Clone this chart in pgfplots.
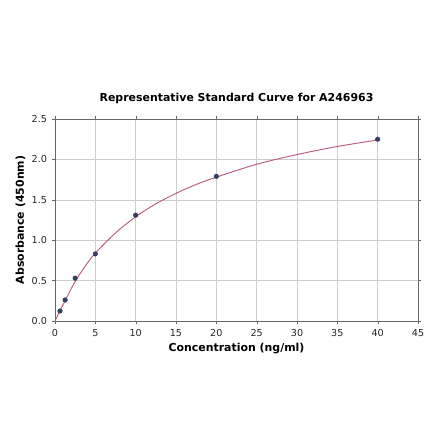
\documentclass[border=0pt]{standalone}
\usepackage{pgfplots}
\pgfplotsset{compat=1.18}
\usepackage{fontspec}
\setmainfont{DejaVu Sans}

\definecolor{curvecol}{RGB}{186,92,122}
\definecolor{ptcol}{RGB}{52,62,96}

\begin{document}
\begin{tikzpicture}[x=0.75pt,y=0.75pt]
  % page frame in reference pixels, axis lower-left at (0,0)
  \useasboundingbox (-55,-120) rectangle (385,321);
  \begin{axis}[
    at={(0,0)}, anchor=south west,
    scale only axis,
    width=272.25pt, height=151.5pt,
    xmin=0, xmax=45, ymin=0, ymax=2.5,
    xtick={0,5,...,45},
    ytick={0,0.5,...,2.5},
    yticklabel style={/pgf/number format/fixed, /pgf/number format/fixed zerofill, /pgf/number format/precision=1},
    /pgf/number format/assume math mode=true,
    tick label style={font=\fontsize{7.2}{8}\selectfont, text=black!85},
    grid=major,
    major grid style={line width=.4pt, draw=black!20},
    axis line style={draw=black!60, line width=.6pt},
    tick style={draw=black!60},
    tick align=outside,
    major tick length=2.5pt,
    xlabel={\bfseries Concentration (ng/ml)},
    ylabel={\bfseries Absorbance (450nm)},
    xlabel style={font=\fontsize{8.2}{9}\selectfont, yshift=2pt},
    ylabel style={font=\fontsize{8.2}{9}\selectfont, yshift=-2pt},
    title={\bfseries Representative Standard Curve for A246963},
    title style={font=\fontsize{8.2}{9}\selectfont, yshift=2pt},
  ]
  % fitted curve, values
  \addplot[curvecol, line width=.7pt, smooth, no markers] coordinates {
    (0,0.0) (0.625,0.13) (1.25,0.25) (2.5,0.49) (3.75,0.68) (5,0.84)
    (7.5,1.09) (10,1.29) (12.5,1.45) (15,1.58) (17.5,1.69) (20,1.78)
    (25,1.94) (30,2.06) (35,2.16) (40,2.24)
  };
  % standards
  \addplot[only marks, mark=*, mark size=1.7pt, ptcol] coordinates {
    (0.625,0.124) (1.25,0.26) (2.5,0.53) (5,0.83) (10,1.31) (20,1.79) (40,2.25)
  };
  \end{axis}
\end{tikzpicture}
\end{document}
